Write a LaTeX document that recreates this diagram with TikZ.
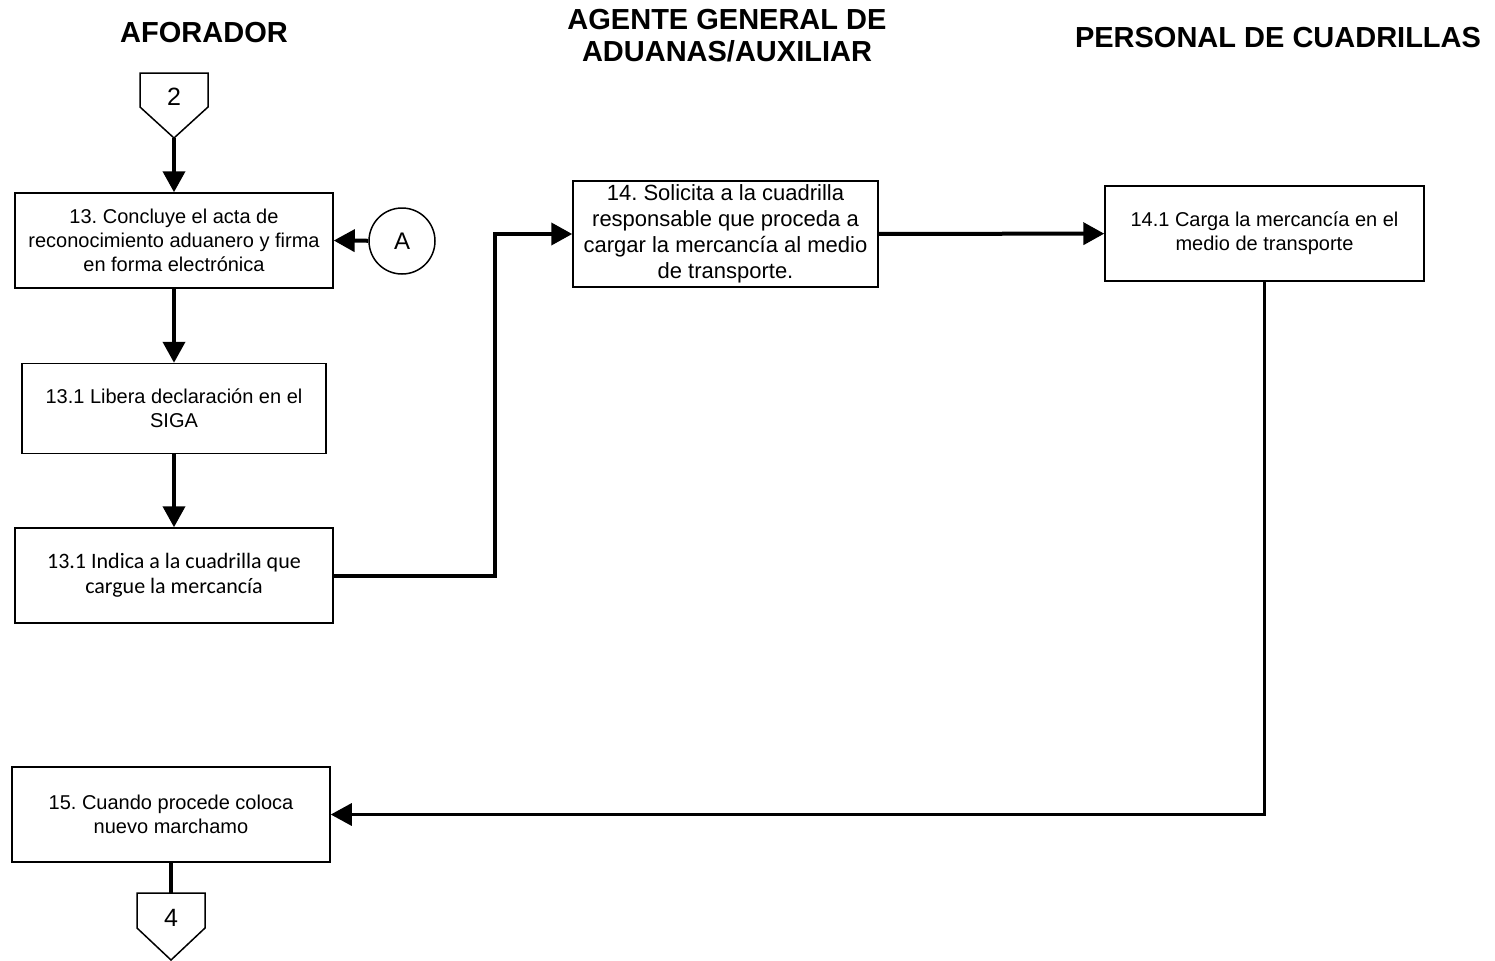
\documentclass[tikz,border=0pt]{standalone}
\usepackage{fontspec}
\setmainfont{Liberation Sans}
\newfontfamily\calibrifont{Carlito}
\usepackage{tikz}
\usetikzlibrary{
  arrows.meta,
  positioning
}
\frenchspacing
\definecolor{linecolor}{RGB}{0, 0, 0}
\definecolor{labelcolor}{RGB}{0, 0, 0}
\tikzset{
blocktext/.style={
  align=center,
  font=\fontsize{10pt}{12pt}\selectfont,
  text=labelcolor
},
processblock/.style={
  draw=linecolor,
  line width=0.75pt,
  fill=white,
  minimum height=47.5pt,
  minimum width=159pt,
  inner sep=1pt,
  blocktext
},
connectorcircle/.style={
  draw=linecolor,
  line width=0.75pt,
  circle,
  minimum size=33pt,
  inner sep=0pt,
  font=\fontsize{12pt}{14pt}\selectfont
},
offpage/.style={
  draw=linecolor,
  line width=0.75pt
},
offpagetext/.style={
  font=\fontsize{12.5pt}{14pt}\selectfont,
  inner sep=0pt
},
titlelabel/.style={
  font=\bfseries\fontsize{14.5pt}{16pt}\selectfont,
  text=labelcolor,
  align=center
},
lineflow/.style={
  line width=2pt,
  draw=linecolor
},
arrow/.style={
  lineflow,
  -{Triangle[length=10.5pt,width=11pt]}
}
}
\begin{document}
\begin{tikzpicture}[x=0.5pt,y=-0.5pt]
  \useasboundingbox (0,0) rectangle (1495,960);

  % Lane titles
  \node[titlelabel] (tafor) at (204,33) {AFORADOR};
  \node[titlelabel] (tagente) at (727,36) {AGENTE GENERAL DE\\ADUANAS/AUXILIAR};
  \node[titlelabel] (tpers) at (1278,38) {PERSONAL DE CUADRILLAS};

  % Off-page connector 2
  \coordinate (p2) at (174,73);
  \draw[offpage] (p2) ++(-34,0) -- ++(68,0) -- ++(0,34) -- ++(-34,31) -- ++(-34,-31) -- cycle;
  \node[offpagetext] (n2) at (174,97) {2};
  \coordinate (p2tip) at (174,138);

  % Aforador column
  \node[processblock] (b13) at (174,240.5)
    {13. Concluye el acta de\\reconocimiento aduanero y firma\\en forma electrónica};
  \node[connectorcircle] (ca) at (402,241) {A};
  \node[processblock, below=37pt of b13, minimum width=152pt, minimum height=45pt]
    (b131) {13.1 Libera declaración en el\\SIGA};
  \node[processblock, below=36.5pt of b131, font=\calibrifont\fontsize{11pt}{12.5pt}\selectfont]
    (ind) {13.1 Indica a la cuadrilla que\\cargue la mercancía};
  \node[processblock] (b15) at (171,814.5)
    {15. Cuando procede coloca\\nuevo marchamo};

  % Other lanes
  \node[processblock, minimum width=152.5pt, minimum height=53pt,
    font=\fontsize{11pt}{13pt}\selectfont] (b14) at (725.5,234)
    {14. Solicita a la cuadrilla\\responsable que proceda a\\cargar la mercancía al medio\\de transporte.};
  \node[processblock, minimum width=159.5pt] (b141) at (1264.5,233.5)
    {14.1 Carga la mercancía en el\\medio de transporte};

  % Off-page connector 4
  \coordinate (p4) at (171,893);
  \draw[offpage] (p4) ++(-34,0) -- ++(68,0) -- ++(0,35) -- ++(-34,32) -- ++(-34,-32) -- cycle;
  \node[offpagetext] (n4) at (171,918) {4};

  % Flow
  \draw[arrow] (p2tip) -- (b13.north);
  \draw[arrow] (ca) -- (b13.east);
  \draw[arrow] (b13) -- (b131);
  \draw[arrow] (b131) -- (ind);
  \draw[arrow] (ind.east) -- ++(161,0) |- (b14.west);
  \draw[arrow] (b14) -- (b141);
  \draw[arrow, line width=1.6pt] (b141.south) |- (b15.east);
  \draw[lineflow] (b15.south) -- (p4);
\end{tikzpicture}
\end{document}
